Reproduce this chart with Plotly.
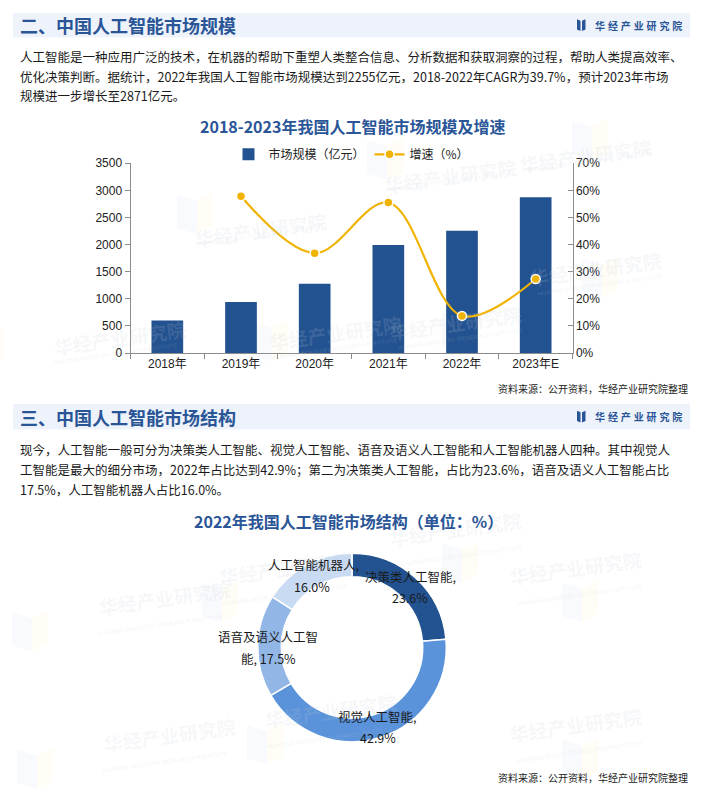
import plotly.graph_objects as go

W, H = 703, 792

# ---------------- data ----------------
years = ["2018年", "2019年", "2020年", "2021年", "2022年", "2023年E"]
market_size = [600, 940, 1280, 1990, 2255, 2871]          # 亿元
growth_years = ["2019年", "2020年", "2021年", "2022年", "2023年E"]
growth_rate = [57.8, 36.8, 55.5, 13.7, 27.3]               # %

seg_labels = ["决策类人工智能", "视觉人工智能", "语音及语义人工智能", "人工智能机器人"]
seg_values = [23.6, 42.9, 17.5, 16.0]
seg_colors = ["#22528F", "#5B93DA", "#92B7E6", "#C9DBF2"]

header1 = "二、中国人工智能市场规模"
header2 = "三、中国人工智能市场结构"
para1 = [
    "人工智能是一种应用广泛的技术，在机器的帮助下重塑人类整合信息、分析数据和获取洞察的过程，帮助人类提高效率、",
    "优化决策判断。据统计，2022年我国人工智能市场规模达到2255亿元，2018-2022年CAGR为39.7%，预计2023年市场",
    "规模进一步增长至2871亿元。",
]
para2 = [
    "现今，人工智能一般可分为决策类人工智能、视觉人工智能、语音及语义人工智能和人工智能机器人四种。其中视觉人",
    "工智能是最大的细分市场，2022年占比达到42.9%；第二为决策类人工智能，占比为23.6%，语音及语义人工智能占比",
    "17.5%，人工智能机器人占比16.0%。",
]
chart1_title = "2018-2023年我国人工智能市场规模及增速"
chart2_title = "2022年我国人工智能市场结构（单位：%）"
source_text = "资料来源：公开资料，华经产业研究院整理"
logo_chars = ["华", "经", "产", "业", "研", "究", "院"]

BLUE = "#2A5597"
CJK = "Noto Sans CJK SC"
LAT = "Liberation Sans, Noto Sans CJK SC"


def px(x):
    return x / W


def py(y):
    return 1 - y / H


fig = go.Figure()

# ---------------- bar + line chart ----------------
fig.add_trace(go.Bar(
    x=years, y=market_size, name="市场规模（亿元）",
    marker=dict(color="#22528F", line=dict(width=0)),
    xaxis="x", yaxis="y",
))
fig.add_trace(go.Scatter(
    x=growth_years, y=growth_rate, name="增速（%）",
    mode="lines+markers",
    line=dict(color="#F0B400", width=2.2, shape="spline", smoothing=1.0),
    marker=dict(color="#F0B400", size=9, line=dict(color="white", width=1.5)),
    xaxis="x", yaxis="y2",
))

# ---------------- donut ----------------
fig.add_trace(go.Pie(
    labels=seg_labels, values=seg_values, hole=0.75,
    sort=False, direction="clockwise", rotation=0,
    marker=dict(colors=seg_colors, line=dict(color="white", width=1.5)),
    textinfo="none", showlegend=False, hoverinfo="label+percent",
    domain=dict(x=[px(256), px(448)], y=[py(748), py(556)]),
))

axis_line = "#8C8C8C"
fig.update_layout(
    width=W, height=H,
    margin=dict(l=0, r=0, t=0, b=0),
    paper_bgcolor="white", plot_bgcolor="rgba(0,0,0,0)",
    font=dict(family=CJK, size=12, color="#222222"),
    bargap=0.57,
    xaxis=dict(
        domain=[px(130.5), px(572.5)], anchor="y",
        showline=True, linecolor=axis_line, linewidth=1,
        ticks="outside", ticklen=5, tickcolor=axis_line, tickson="boundaries",
        tickfont=dict(family=LAT, size=12, color="#222222"),
        showgrid=False, zeroline=False, fixedrange=True,
    ),
    yaxis=dict(
        domain=[py(352.3), py(159)], anchor="x",
        range=[0, 3500], dtick=500,
        showline=True, linecolor=axis_line, linewidth=1,
        ticks="outside", ticklen=5, tickcolor=axis_line,
        tickfont=dict(family=LAT, size=12, color="#222222"),
        showgrid=False, zeroline=False,
    ),
    yaxis2=dict(
        overlaying="y", side="right", anchor="x",
        range=[0, 70], dtick=10, ticksuffix="%",
        showline=True, linecolor=axis_line, linewidth=1,
        ticks="inside", ticklen=5, tickcolor=axis_line,
        tickfont=dict(family=LAT, size=12, color="#222222"),
        showgrid=False, zeroline=False,
    ),
    legend=dict(
        orientation="h", x=0.5, xanchor="center", y=py(150), yanchor="middle",
        font=dict(family=CJK, size=12, color="#222222"),
        itemwidth=30, bgcolor="rgba(0,0,0,0)", traceorder="normal",
    ),
)

shapes = []
annotations = []

# ---------------- watermarks (faint) ----------------
wm_pos = [(255, 205), (445, 150), (330, 335), (45, 340), (520, 325), (650, 130),
          (660, 270), (520, 560), (280, 600), (640, 600), (325, 745), (95, 770),
          (640, 760), (90, 630)]
for (wx, wy) in wm_pos:
    shapes.append(dict(type="path", xref="paper", yref="paper", layer="below",
                       path=f"M {px(wx-78)} {py(wy-14)} L {px(wx-58)} {py(wy-8)} L {px(wx-58)} {py(wy+26)} L {px(wx-78)} {py(wy+20)} Z",
                       fillcolor="rgba(215,225,245,0.16)", line=dict(width=0)))
    shapes.append(dict(type="path", xref="paper", yref="paper", layer="below",
                       path=f"M {px(wx-58)} {py(wy-8)} L {px(wx-42)} {py(wy-16)} L {px(wx-42)} {py(wy+18)} L {px(wx-58)} {py(wy+26)} Z",
                       fillcolor="rgba(255,244,205,0.18)", line=dict(width=0)))
    annotations.append(dict(x=px(wx + 5), y=py(wy - 4), xref="paper", yref="paper",
                            text="<b>华经产业研究院</b>", showarrow=False, textangle=-8,
                            font=dict(family=CJK, size=19, color="rgba(195,205,220,0.16)")))
    annotations.append(dict(x=px(wx + 5), y=py(wy + 13), xref="paper", yref="paper",
                            text="HUAJING INDUSTRY RESEARCH INSTITUTE", showarrow=False, textangle=-8,
                            font=dict(family=LAT, size=6, color="rgba(195,205,220,0.22)")))

# ---------------- header bands ----------------
for (y0, y1, title, ty) in [(6, 31, header1, 18.5), (404, 430, header2, 417)]:
    shapes.append(dict(type="rect", xref="paper", yref="paper", layer="below",
                       x0=px(13), x1=px(690), y0=py(y1), y1=py(y0),
                       fillcolor="#EEF3FB", line=dict(width=0)))
    annotations.append(dict(x=px(18), y=py(ty), xref="paper", yref="paper",
                            xanchor="left", yanchor="middle", showarrow=False,
                            text=f"<b>{title}</b>", font=dict(family=CJK, size=18, color=BLUE)))
    # logo icon
    cy = (y0 + y1) / 2
    shapes.append(dict(type="path", xref="paper", yref="paper",
                       path=f"M {px(577)} {py(cy-6)} L {px(580.5)} {py(cy-4.5)} L {px(580.5)} {py(cy+6)} L {px(577)} {py(cy+4.5)} Z",
                       fillcolor=BLUE, line=dict(width=0)))
    shapes.append(dict(type="path", xref="paper", yref="paper",
                       path=f"M {px(582)} {py(cy-4.5)} L {px(585.5)} {py(cy-6)} L {px(585.5)} {py(cy+4.5)} L {px(582)} {py(cy+6)} Z",
                       fillcolor=BLUE, line=dict(width=0)))
    annotations.append(dict(x=px(593), y=py(cy), xref="paper", yref="paper",
                            xanchor="left", yanchor="middle", showarrow=False,
                            text="<b>" + "\u00a0\u200a".join(logo_chars) + "</b>",
                            font=dict(family=CJK, size=10, color=BLUE)))

# ---------------- paragraphs ----------------
for lines, ys in [(para1, [50, 71, 90]), (para2, [450, 471, 491])]:
    for t, ly in zip(lines, ys):
        annotations.append(dict(x=px(18), y=py(ly), xref="paper", yref="paper",
                                xanchor="left", yanchor="middle", showarrow=False,
                                text=t, font=dict(family=CJK, size=12.5, color="#1A1A1A")))

# ---------------- chart titles ----------------
annotations.append(dict(x=px(352), y=py(121), xref="paper", yref="paper",
                        xanchor="center", yanchor="middle", showarrow=False,
                        text=f"<b>{chart1_title}</b>", font=dict(family=CJK, size=16, color=BLUE)))
annotations.append(dict(x=px(348), y=py(523), xref="paper", yref="paper",
                        xanchor="center", yanchor="middle", showarrow=False,
                        text=f"<b>{chart2_title}</b>", font=dict(family=CJK, size=16, color=BLUE)))

# ---------------- sources ----------------
for sy in [388, 784]:
    annotations.append(dict(x=px(690), y=py(sy), xref="paper", yref="paper",
                            xanchor="right", yanchor="middle", showarrow=False,
                            text=source_text, font=dict(family=CJK, size=10, color="#222222")))

# ---------------- donut labels ----------------
label_lines = [
    (seg_labels[0] + ",", f"{seg_values[0]:.1f}%", (410, 580), (410, 601)),
    (seg_labels[1] + ",", f"{seg_values[1]:.1f}%", (377, 722), (378, 744)),
    ("语音及语义人工智", f"能, {seg_values[2]:.1f}%", (268, 641), (268, 663)),
    (seg_labels[3] + ",", f"{seg_values[3]:.1f}%", (313, 568), (312, 590)),
]
for l1, l2, p1, p2 in label_lines:
    for t, (lx, ly) in [(l1, p1), (l2, p2)]:
        annotations.append(dict(x=px(lx), y=py(ly), xref="paper", yref="paper",
                                xanchor="center", yanchor="middle", showarrow=False,
                                text=t, font=dict(family=CJK, size=12.5, color="#1A1A1A")))

fig.update_layout(shapes=shapes, annotations=annotations)

fig.write_html(
    "out.html",
    config={"displayModeBar": False},
    post_script="document.body.style.margin='0';document.body.style.overflow='hidden';",
)
